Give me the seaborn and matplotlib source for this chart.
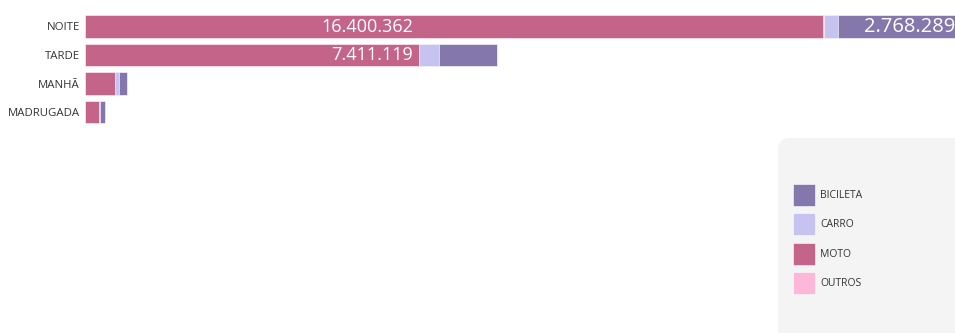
"""
stacked horizontal bars: vehicles per period of the day
"""

import matplotlib
matplotlib.use("Agg")
import matplotlib.pyplot as plt
from matplotlib.patches import Patch, FancyBboxPatch
import seaborn as sns
import pandas as pd

# data
periods = ["NOITE", "TARDE", "MANHÃ", "MADRUGADA"]
moto = [16400362, 7411119, 666000, 311000]
outros = [8000, 6000, 3000, 2000]
carro = [311000, 444000, 95000, 10000]
bicicleta = [2768289, 1296000, 164000, 111000]

legend_labels = ["BICILETA", "CARRO", "MOTO", "OUTROS"]

COLOR = {
    "BICILETA": "#8477ab",
    "CARRO": "#c6c3f0",
    "MOTO": "#c56489",
    "OUTROS": "#fdb8d7",
}


def fmt(v):
    return f"{v:,}".replace(",", ".")


def run_main(out_p):
    df = pd.DataFrame({
        "period": periods,
        "moto": moto,
        "outros": outros,
        "carro": carro,
        "bicicleta": bicicleta,
    })
    # cumulative totals, biggest first so the smaller ones draw on top
    df["c_moto"] = df["moto"]
    df["c_outros"] = df["c_moto"] + df["outros"]
    df["c_carro"] = df["c_outros"] + df["carro"]
    df["c_bici"] = df["c_carro"] + df["bicicleta"]

    sns.set_style("white")
    plt.rcParams["font.family"] = ["Open Sans", "DejaVu Sans"]

    fig = plt.figure(figsize=(9.55, 3.33), dpi=100)
    ax = fig.add_axes([85 / 955, 1 - 126.25 / 333, 1 - 85 / 955, 114 / 333])

    layers = [
        ("c_bici", "BICILETA"),
        ("c_carro", "CARRO"),
        ("c_outros", "OUTROS"),
        ("c_moto", "MOTO"),
    ]
    for col, name in layers:
        sns.barplot(
            data=df,
            x=col,
            y="period",
            ax=ax,
            color=COLOR[name],
            orient="h",
            width=0.8,
            edgecolor="white",
            linewidth=0.4,
            saturation=1,
        )

    ax.set_xlim(0, (955 - 85) * 16400362 / 738.3)
    ax.set_xlabel("")
    ax.set_ylabel("")
    ax.set_xticks([])
    for s in ax.spines.values():
        s.set_visible(False)
    ax.tick_params(axis="y", length=0, pad=3.6, labelsize=8.2, labelcolor="#333333")

    # value labels (white, inside the bars)
    label_x = 7.29e6
    for i in range(2):
        ax.text(label_x, i, fmt(moto[i]), ha="right", va="center",
                color="white", fontsize=13)
    ax.text(1.0, 0, fmt(bicicleta[0]), transform=ax.get_yaxis_transform(),
            ha="right", va="center", color="white", fontsize=14.5)

    # legend panel with a rounded corner
    box = FancyBboxPatch(
        (778 / 955, -0.2), 0.5, (333 - 138) / 333 + 0.2,
        boxstyle="round,pad=0,rounding_size=0.012",
        transform=fig.transFigure, facecolor="#f4f4f4", edgecolor="none",
        mutation_aspect=955 / 333, zorder=0,
    )
    fig.patches.append(box)

    handles = [Patch(facecolor=COLOR[n], edgecolor="white", linewidth=0.4)
               for n in legend_labels]
    fig.legend(
        handles, legend_labels,
        loc="upper left",
        bbox_to_anchor=(793 / 955, 1 - 184 / 333),
        frameon=False,
        fontsize=7.5,
        labelcolor="#333333",
        handlelength=2.1,
        handleheight=2.87,
        handletextpad=0.5,
        labelspacing=0.7,
        borderpad=0,
        borderaxespad=0,
    )

    fig.savefig(out_p, dpi=100)
    plt.close(fig)
    print(f"Saved plot to {out_p}")


if __name__ == "__main__":
    run_main("out.png")
